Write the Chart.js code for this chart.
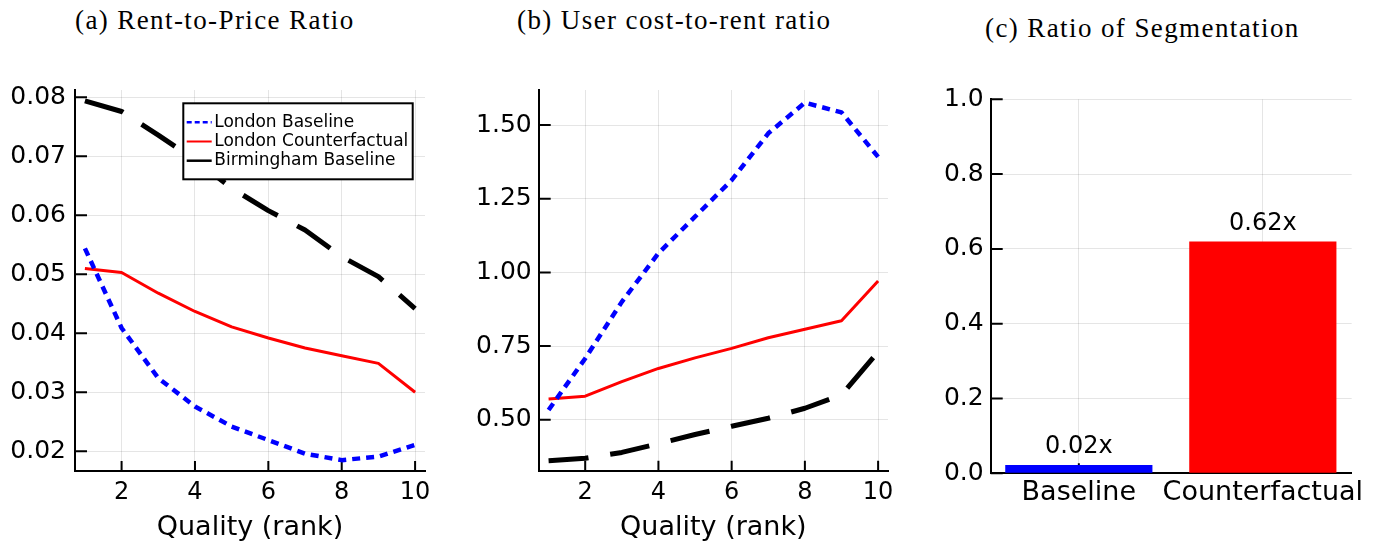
<!DOCTYPE html>
<html><head><meta charset="utf-8">
<script src="https://cdn.jsdelivr.net/npm/chart.js@4.4.0/dist/chart.umd.min.js"></script>
<style>
html,body{margin:0;padding:0;background:#fff;}
body{width:1382px;height:542px;position:relative;overflow:hidden;}
.pane{position:absolute;top:0;height:542px;}
.pane canvas{display:block;}
.ttl{position:absolute;font-family:"Liberation Serif",serif;font-size:27px;line-height:27px;letter-spacing:1.4px;white-space:nowrap;color:#000;}
</style></head><body>
<div class="ttl" id="tA" style="left:75px;top:7px"></div>
<div class="ttl" id="tB" style="left:517px;top:7px"></div>
<div class="ttl" id="tC" style="left:985px;top:15px"></div>
<div class="pane" style="left:0;width:455px"><canvas id="cA" width="455" height="542"></canvas></div>
<div class="pane" style="left:455px;width:450px"><canvas id="cB" width="450" height="542"></canvas></div>
<div class="pane" style="left:905px;width:477px"><canvas id="cC" width="477" height="542"></canvas></div>
<script>
// ---------- data ----------
const titles = ["(a) Rent-to-Price Ratio", "(b) User cost-to-rent ratio", "(c) Ratio of Segmentation"];
const seriesNames = ["London Baseline", "London Counterfactual", "Birmingham Baseline"];
const xAxisTitle = "Quality (rank)";
const quality = [1, 2, 3, 4, 5, 6, 7, 8, 9, 10];

const rentPriceLondonBase = [0.0544, 0.0409, 0.0324, 0.0276, 0.0242, 0.0219, 0.0196, 0.0185, 0.0191, 0.0211];
const rentPriceLondonCf   = [0.0510, 0.0503, 0.0468, 0.0437, 0.0411, 0.0392, 0.0375, 0.0362, 0.0349, 0.0300];
const rentPriceBirmBase   = [0.0794, 0.0776, 0.0736, 0.0694, 0.0646, 0.0608, 0.0575, 0.0530, 0.0496, 0.0442];

const userCostLondonBase = [0.533, 0.708, 0.900, 1.065, 1.189, 1.313, 1.472, 1.576, 1.543, 1.392];
const userCostLondonCf   = [0.570, 0.580, 0.629, 0.674, 0.710, 0.742, 0.778, 0.807, 0.836, 0.971];
const userCostBirmBase   = [0.361, 0.369, 0.389, 0.419, 0.450, 0.478, 0.505, 0.539, 0.584, 0.730];

const segCategories = ["Baseline", "Counterfactual"];
const segValues = [0.022, 0.62];
const segLabels = ["0.02x", "0.62x"];

const xTicksQ = [2, 4, 6, 8, 10];
const yTicksA = [0.02, 0.03, 0.04, 0.05, 0.06, 0.07, 0.08];
const yTicksB = [0.50, 0.75, 1.00, 1.25, 1.50];
const yTicksC = [0.0, 0.2, 0.4, 0.6, 0.8, 1.0];
const xTicksC = [1, 2];

// ---------- titles ----------
document.getElementById('tA').textContent = titles[0];
document.getElementById('tB').textContent = titles[1];
document.getElementById('tC').textContent = titles[2];

// ---------- styling helpers ----------
const FONT = '"DejaVu Sans", sans-serif';
const GRID = 'rgba(0,0,0,0.1)';
const lineStyles = [
  {borderColor: '#0000ff', borderWidth: 4.5, borderDash: [8, 6], legendWidth: 2.5, legendDash: [5, 3]},
  {borderColor: '#ff0000', borderWidth: 3, borderDash: [], legendWidth: 2, legendDash: []},
  {borderColor: '#000000', borderWidth: 5, borderDash: [40, 22], legendWidth: 2.5, legendDash: []}
];

const innerTicks = {
  id: 'innerTicks',
  beforeDatasetsDraw(chart) {
    const {ctx, chartArea: a, scales: {x, y}} = chart;
    ctx.save();
    ctx.strokeStyle = '#000';
    ctx.lineWidth = 2;
    ctx.beginPath();
    x.ticks.forEach(t => { const px = x.getPixelForValue(t.value); ctx.moveTo(px, a.bottom); ctx.lineTo(px, a.bottom - 10); });
    y.ticks.forEach(t => { const py = y.getPixelForValue(t.value); ctx.moveTo(a.left, py); ctx.lineTo(a.left + 12, py); });
    ctx.stroke();
    ctx.restore();
  }
};

const legendA = {
  id: 'legendA',
  afterDraw(chart) {
    const {ctx, chartArea: a} = chart;
    const x0 = a.left + 108.3, y0 = a.top + 13.3, w = 229.4, h = 76;
    ctx.save();
    ctx.fillStyle = '#fff';
    ctx.fillRect(x0, y0, w, h);
    ctx.strokeStyle = '#000';
    ctx.lineWidth = 2;
    ctx.strokeRect(x0, y0, w, h);
    ctx.font = '17px ' + FONT;
    ctx.textBaseline = 'middle';
    chart.data.datasets.forEach((ds, i) => {
      const yy = y0 + 19 + i * 19.2;
      ctx.beginPath();
      ctx.strokeStyle = ds.borderColor;
      ctx.lineWidth = lineStyles[i].legendWidth;
      ctx.setLineDash(lineStyles[i].legendDash);
      ctx.moveTo(x0 + 3.4, yy);
      ctx.lineTo(x0 + 28.4, yy);
      ctx.stroke();
      ctx.setLineDash([]);
      ctx.fillStyle = '#000';
      ctx.fillText(ds.label, x0 + 31, yy);
    });
    ctx.restore();
  }
};

const barLabels = {
  id: 'barLabels',
  afterDatasetsDraw(chart) {
    const {ctx} = chart;
    const meta = chart.getDatasetMeta(0);
    ctx.save();
    ctx.font = '24px ' + FONT;
    ctx.fillStyle = '#000';
    ctx.textAlign = 'center';
    ctx.textBaseline = 'middle';
    meta.data.forEach((el, i) => { ctx.fillText(segLabels[i], el.x, el.y - 18); });
    ctx.restore();
  }
};

function makeLineDatasets(arrs) {
  return arrs.map((arr, i) => ({
    label: seriesNames[i],
    data: quality.map((q, j) => ({x: q, y: arr[j]})),
    borderColor: lineStyles[i].borderColor,
    borderWidth: lineStyles[i].borderWidth,
    borderDash: lineStyles[i].borderDash,
    borderCapStyle: 'butt',
    borderJoinStyle: 'round',
    pointRadius: 0,
    tension: 0,
    fill: false
  }));
}

function lineOptions(cfg) {
  return {
    responsive: false,
    animation: false,
    layout: {padding: {top: cfg.top, right: cfg.right, left: 0, bottom: 0}},
    plugins: {legend: {display: false}, tooltip: {enabled: false}},
    scales: {
      x: {
        type: 'linear', min: cfg.xmin, max: cfg.xmax, offset: false,
        afterBuildTicks: s => { s.ticks = cfg.xticks.map(v => ({value: v})); },
        afterFit: s => { s.height = cfg.xh; },
        grid: {color: GRID, lineWidth: 1, drawTicks: false, offset: false},
        border: {display: true, color: '#000', width: 2},
        ticks: {color: '#000', font: {family: FONT, size: cfg.xtickSize || 24, lineHeight: 1.2}, padding: cfg.xpad, maxRotation: 0, minRotation: 0, autoSkip: false,
                callback: cfg.xcb || (v => String(v))},
        title: cfg.xtitle ? {display: true, text: cfg.xtitle, color: '#000', font: {family: FONT, size: 27, lineHeight: 1}, padding: {top: 0, bottom: 0.5}} : {display: false}
      },
      y: {
        type: 'linear', min: cfg.ymin, max: cfg.ymax,
        afterBuildTicks: s => { s.ticks = cfg.yticks.map(v => ({value: v})); },
        afterFit: s => { s.width = cfg.yw; },
        grid: {color: GRID, lineWidth: 1, drawTicks: false},
        border: {display: true, color: '#000', width: 2},
        ticks: {color: '#000', font: {family: FONT, size: 25}, padding: cfg.ypad, callback: v => v.toFixed(cfg.ydec)}
      }
    }
  };
}

// ---------- panel (a) ----------
new Chart(document.getElementById('cA'), {
  type: 'line',
  data: {datasets: makeLineDatasets([rentPriceLondonBase, rentPriceLondonCf, rentPriceBirmBase])},
  options: lineOptions({top: 90, right: 30, xmin: 0.73, xmax: 10.27, xticks: xTicksQ, xh: 71, xpad: 7.6,
                        xtitle: xAxisTitle, ymin: 0.01666, ymax: 0.08124, yticks: yTicksA, yw: 75, ypad: 9, ydec: 2}),
  plugins: [innerTicks, legendA]
});

// ---------- panel (b) ----------
new Chart(document.getElementById('cB'), {
  type: 'line',
  data: {datasets: makeLineDatasets([userCostLondonBase, userCostLondonCf, userCostBirmBase])},
  options: lineOptions({top: 90, right: 17, xmin: 0.73, xmax: 10.27, xticks: xTicksQ, xh: 71.3, xpad: 7.6,
                        xtitle: xAxisTitle, ymin: 0.327, ymax: 1.619, yticks: yTicksB, yw: 83.7, ypad: 7, ydec: 2}),
  plugins: [innerTicks]
});

// ---------- panel (c) ----------
const optC = lineOptions({top: 99.3, right: 30.3, xmin: 0.521, xmax: 2.483, xticks: xTicksC, xh: 68.7, xpad: 3.8, xtickSize: 27,
                          xcb: v => segCategories[v - 1], xtitle: null, ymin: 0, ymax: 1, yticks: yTicksC, yw: 85.7, ypad: 7, ydec: 1});
new Chart(document.getElementById('cC'), {
  type: 'bar',
  data: {datasets: [{
    label: 'Ratio of Segmentation',
    data: segValues.map((v, i) => ({x: xTicksC[i], y: v})),
    backgroundColor: ['#0000ff', '#ff0000'],
    borderWidth: 0,
    barPercentage: 1,
    categoryPercentage: 0.8
  }]},
  options: optC,
  plugins: [innerTicks, barLabels]
});
</script>
</body></html>
